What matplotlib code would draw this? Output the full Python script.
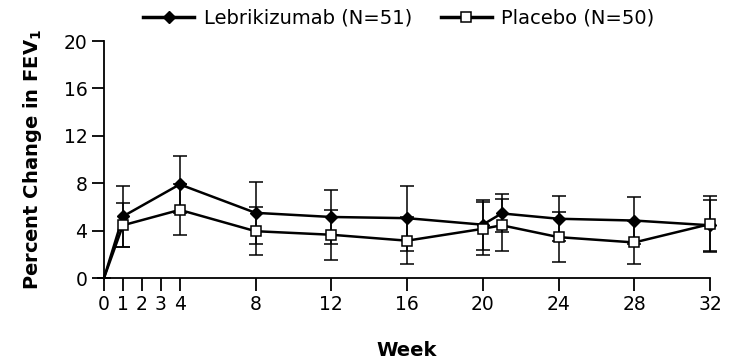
import matplotlib.pyplot as plt
from matplotlib.lines import Line2D

# Datos
semanas = [0, 1, 4, 8, 12, 16, 20, 21, 24, 28, 32]

lebri_media = [0, 5.2, 7.9, 5.5, 5.15, 5.05, 4.5, 5.45, 5.0, 4.85, 4.45]
lebri_err   = [0, 2.6, 2.4, 2.6, 2.3, 2.75, 2.1, 1.6, 1.9, 2.0, 2.15]

placebo_media = [0, 4.45, 5.75, 3.95, 3.65, 3.15, 4.15, 4.45, 3.45, 3.0, 4.55]
placebo_err   = [0, 1.85, 2.15, 2.05, 2.1, 2.0, 2.25, 2.2, 2.1, 1.85, 2.35]

ticks_x = [0, 1, 2, 3, 4, 8, 12, 16, 20, 24, 28, 32]
ticks_y = [0, 4, 8, 12, 16, 20]

plt.rcParams["font.family"] = "DejaVu Sans"

fig = plt.figure(figsize=(7.36, 3.61), dpi=100)
ax = fig.add_axes([0.1413, 0.2299, 0.8234, 0.6565])

marcas = list(range(1, len(semanas)))

# Placebo encima, Lebrikizumab debajo
ax.errorbar(semanas, placebo_media, yerr=placebo_err, color="black",
            lw=1.8, elinewidth=1.1, capsize=5, capthick=1.1, zorder=3,
            marker="s", markersize=7.5, markerfacecolor="white",
            markeredgecolor="black", markeredgewidth=1.1, markevery=marcas,
            clip_on=False)

ax.errorbar(semanas, lebri_media, yerr=lebri_err, color="black",
            lw=1.8, elinewidth=1.1, capsize=5, capthick=1.1, zorder=2,
            marker="D", markersize=6.5, markerfacecolor="black",
            markeredgecolor="black", markevery=marcas, clip_on=False)

ax.set_xlim(0, 32)
ax.set_ylim(0, 20)
ax.set_xticks(ticks_x)
ax.set_yticks(ticks_y)
ax.tick_params(direction="out", length=9, width=1.3, labelsize=13.5, pad=3)

for lado in ["top", "right"]:
    ax.spines[lado].set_visible(False)
for lado in ["left", "bottom"]:
    ax.spines[lado].set_linewidth(1.3)

ax.set_xlabel("Week", fontsize=14, fontweight="bold", labelpad=20)
ax.set_ylabel(r"Percent Change in FEV$_\mathbf{1}$", fontsize=14,
              fontweight="bold", labelpad=14)

# Leyenda en la parte superior
h_lebri = Line2D([], [], color="black", lw=2.5, marker="D", markersize=6,
                 markerfacecolor="black")
h_placebo = Line2D([], [], color="black", lw=2.5, marker="s", markersize=7,
                   markerfacecolor="white", markeredgewidth=1.1)
fig.legend([h_lebri, h_placebo], ["Lebrikizumab (N=51)", "Placebo (N=50)"],
           loc="upper center", bbox_to_anchor=(0.542, 1.025), ncol=2,
           frameon=False, fontsize=14, handlelength=2.6, columnspacing=1.5,
           handletextpad=0.5)

plt.savefig("out.png", dpi=100)
